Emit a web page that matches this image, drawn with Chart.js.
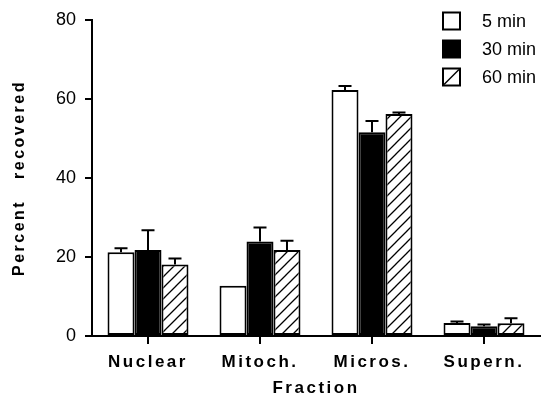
<!DOCTYPE html>
<html>
<head>
<meta charset="utf-8">
<script src="https://cdn.jsdelivr.net/npm/chart.js@4/dist/chart.umd.min.js"></script>
<style>
html,body{margin:0;padding:0;background:#fff;}
#c{display:block;}
</style>
</head>
<body>
<canvas id="c" width="542" height="399"></canvas>
<script>
// ---- data ----
const categories = ['Nuclear', 'Mitoch.', 'Micros.', 'Supern.'];
const seriesLabels = ['5 min', '30 min', '60 min'];
const values5 = [21.2, 12.7, 62.3, 3.3];
const values30 = [21.8, 23.9, 51.6, 2.5];
const values60 = [18.1, 21.8, 56.2, 3.2];
const err5 = [1.0, 0, 1.0, 0.4];
const err30 = [5.0, 3.6, 2.8, 0.4];
const err60 = [1.5, 2.3, 0.4, 1.3];
const yTicks = [0, 20, 40, 60, 80];
const xTitle = 'Fraction';
const yTitle = 'Percent   recovered';

const FONT = "'Liberation Sans', Arial, Helvetica, sans-serif";

function makeHatch() {
  const s = 11;
  const pc = document.createElement('canvas');
  pc.width = s; pc.height = s;
  const p = pc.getContext('2d');
  p.fillStyle = '#fff';
  p.fillRect(0, 0, s, s);
  p.strokeStyle = '#000';
  p.lineWidth = 1.3;
  p.beginPath();
  p.moveTo(-1, s + 1); p.lineTo(s + 1, -1);
  p.moveTo(-2, 2); p.lineTo(2, -2);
  p.moveTo(s - 2, s + 2); p.lineTo(s + 2, s - 2);
  p.stroke();
  return p.createPattern(pc, 'repeat');
}
const hatch = makeHatch();

const errors = [err5, err30, err60];

const errorBarPlugin = {
  id: 'errorBars',
  beforeDraw(chart) {
    chart.ctx.letterSpacing = '0px';
  },
  afterDatasetsDraw(chart) {
    const ctx = chart.ctx;
    const y = chart.scales.y;
    ctx.save();
    ctx.strokeStyle = '#000';
    ctx.lineWidth = 2;
    chart.data.datasets.forEach((ds, di) => {
      const meta = chart.getDatasetMeta(di);
      meta.data.forEach((bar, i) => {
        const e = errors[di][i];
        if (!e) return;
        const top = y.getPixelForValue(ds.data[i] + e);
        const base = y.getPixelForValue(ds.data[i]);
        const half = 6.5;
        ctx.beginPath();
        ctx.moveTo(bar.x, base);
        ctx.lineTo(bar.x, top);
        ctx.moveTo(bar.x - half, top);
        ctx.lineTo(bar.x + half, top);
        ctx.stroke();
      });
    });
    ctx.restore();
    ctx.letterSpacing = '2.5px';
  },
  afterDraw(chart) {
    const ctx = chart.ctx;
    ctx.save();
    ctx.letterSpacing = '0px';
    const bx = 443, bs = 17, tx = 482;
    const rows = [21, 49, 77];
    chart.data.datasets.forEach((ds, di) => {
      const cy = rows[di];
      const top = cy - bs / 2;
      ctx.fillStyle = di === 1 ? '#000' : '#fff';
      ctx.fillRect(bx, top, bs, bs);
      ctx.strokeStyle = '#000';
      ctx.lineWidth = 2;
      ctx.strokeRect(bx, top, bs, bs);
      if (di === 2) {
        ctx.lineWidth = 1.5;
        ctx.beginPath();
        ctx.moveTo(bx + 1, top + bs - 1);
        ctx.lineTo(bx + bs - 1, top + 1);
        ctx.stroke();
      }
      ctx.fillStyle = '#000';
      ctx.font = '18px ' + FONT;
      ctx.textBaseline = 'middle';
      ctx.textAlign = 'left';
      ctx.fillText(ds.label, tx, cy + 1);
    });
    ctx.restore();
  }
};

const barStyle = {borderColor: '#000', borderWidth: 2, borderSkipped: false,
  categoryPercentage: 0.723, barPercentage: 1.0};

new Chart(document.getElementById('c'), {
  type: 'bar',
  data: {
    labels: categories,
    datasets: [
      Object.assign({label: seriesLabels[0], data: values5, backgroundColor: '#fff'}, barStyle),
      Object.assign({label: seriesLabels[1], data: values30, backgroundColor: '#000'}, barStyle),
      Object.assign({label: seriesLabels[2], data: values60, backgroundColor: hatch}, barStyle)
    ]
  },
  options: {
    responsive: false,
    animation: false,
    devicePixelRatio: 1,
    layout: {padding: {top: 20, right: 2, left: 0, bottom: 0}},
    plugins: {legend: {display: false}, tooltip: {enabled: false}},
    scales: {
      x: {
        grid: {offset: false, drawOnChartArea: false, tickLength: 8, color: '#000', lineWidth: 2, z: 1},
        border: {color: '#000', width: 2, z: 1},
        ticks: {color: '#000', font: {family: FONT, size: 17, weight: 'bold'}, padding: 8,
          autoSkip: false, maxRotation: 0, z: 1},
        title: {display: true, text: xTitle, color: '#000',
          font: {family: FONT, size: 17, weight: 'bold', lineHeight: 1.2}, padding: {top: 0, bottom: 0}},
        afterFit(s) { s.height = 63; }
      },
      y: {
        min: 0, max: 80,
        afterBuildTicks(s) { s.ticks = yTicks.map(v => ({value: v})); },
        grid: {drawOnChartArea: false, tickLength: 7, color: '#000', lineWidth: 2, z: 1},
        border: {color: '#000', width: 2, z: 1},
        ticks: {color: '#000', font: {family: FONT, size: 18}, padding: 9},
        title: {display: true, text: yTitle, color: '#000',
          font: {family: FONT, size: 16, weight: 'bold', lineHeight: 1.2}, padding: {top: 10, bottom: 0}},
        afterFit(s) { s.width = 92; }
      }
    }
  },
  plugins: [errorBarPlugin]
});
</script>
</body>
</html>
